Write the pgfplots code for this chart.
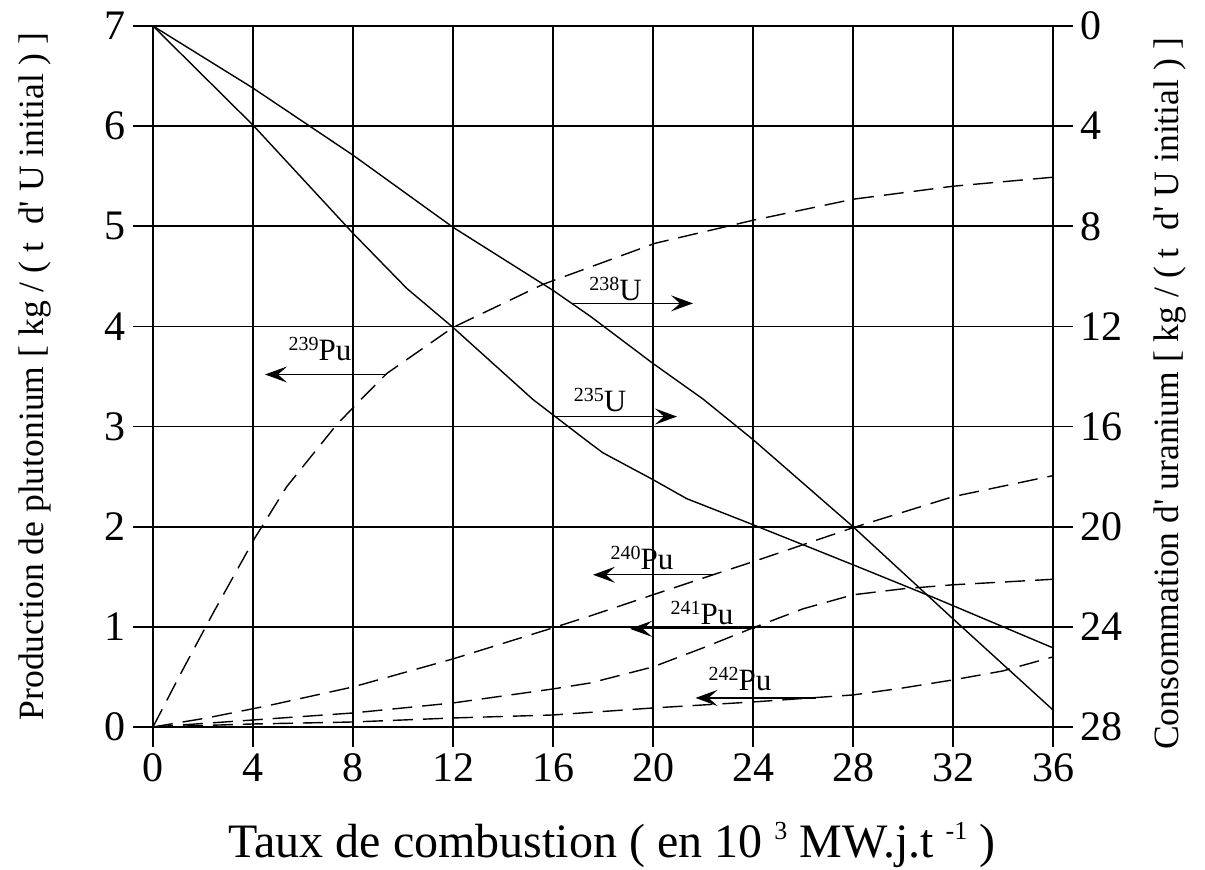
\documentclass[border=0pt]{standalone}
\usepackage{fontspec}
\setmainfont{Liberation Serif}
\usepackage{pgfplots}
\pgfplotsset{compat=1.18}
\usetikzlibrary{arrows.meta}
\newcommand{\isup}[1]{\raisebox{5pt}{\fontsize{10}{12}\selectfont #1}}
\newcommand{\xsup}[1]{\raisebox{9pt}{\fontsize{13}{15}\selectfont #1}}
\newcommand{\ap}{\textquotesingle}
\tikzset{
  dsh/.style={black, line width=0.7pt, dash pattern=on 10pt off 5pt},
  sol/.style={black, line width=0.7pt},
  arr/.style={black, line width=0.6pt, -{Stealth[length=11pt,width=8pt,inset=4.5pt]}},
  lab/.style={font=\fontsize{15.5}{18}\selectfont, inner sep=0pt},
}
\begin{document}
\begin{tikzpicture}
\useasboundingbox (-76.5pt,-71.5pt) rectangle (526pt,363.5pt);
\pgfplotsset{
  common/.style={
    at={(0,0)}, anchor=south west,
    scale only axis, width=450pt, height=350.5pt,
    xmin=0, xmax=36,
    tick align=outside,
    major tick length=10pt,
    tick style={black, line width=0.8pt},
    axis line style={black, line width=0.8pt},
    tick label style={font=\fontsize{21}{24}\selectfont},
    /pgf/number format/assume math mode=true,
    label style={font=\fontsize{17.8}{20}\selectfont},
  },
}
\begin{axis}[common,
  ymin=0, ymax=7,
  xtick={0,4,...,36}, ytick={0,1,...,7},
  tick pos=left,
  grid=major, major grid style={black, line width=0.8pt},
  xlabel={Taux de combustion ( en 10 \xsup{3} MW.j.t \xsup{-1} )},
  xlabel style={at={(axis description cs:0.51,-0.168)}, anchor=center, font=\fontsize{24}{28}\selectfont},
  ylabel={Production de plutonium [ kg / ( t \ d\ap{} U initial ) ]},
  ylabel style={at={(axis description cs:-0.131,0.5)}, anchor=center},
]
% 239Pu
\addplot[dsh] coordinates {(0,0) (1.08,0.52) (2.41,1.14) (4.08,1.89) (5.35,2.40) (7.35,3.02) (8.55,3.33) (9.35,3.53) (12,3.99) (15.6,4.42) (17.35,4.58) (20.08,4.83) (24,5.06) (28,5.27) (32,5.40) (36,5.49)};
% 240Pu
\addplot[dsh] coordinates {(0,0) (2.15,0.09) (4.55,0.21) (8,0.40) (12,0.68) (16,0.99) (17.5,1.11) (20,1.32) (22.4,1.52) (24,1.65) (28,1.99) (32,2.30) (36,2.51)};
% 241Pu
\addplot[dsh] coordinates {(0,0) (4,0.07) (8,0.14) (12,0.24) (16,0.38) (17.5,0.44) (20,0.60) (22,0.79) (24,0.99) (26,1.18) (28,1.32) (30,1.38) (32,1.42) (36,1.475)};
% 242Pu
\addplot[dsh] coordinates {(0,0) (4,0.03) (8,0.05) (12,0.09) (16,0.12) (20,0.19) (24,0.25) (28,0.32) (30,0.39) (32,0.47) (34,0.56) (36,0.70)};
% annotations
\draw[arr] (axis cs:9.35,3.52) -- (axis cs:4.48,3.52);
\node[lab] at (axis cs:6.68,3.77) {\isup{239}Pu};
\draw[arr] (axis cs:16.76,4.23) -- (axis cs:21.6,4.23);
\node[lab] at (axis cs:18.5,4.37) {\isup{238}U};
\draw[arr] (axis cs:16.0,3.10) -- (axis cs:20.96,3.10);
\node[lab] at (axis cs:17.88,3.26) {\isup{235}U};
\draw[arr] (axis cs:22.4,1.52) -- (axis cs:17.6,1.52);
\node[lab] at (axis cs:19.56,1.69) {\isup{240}Pu};
\draw[arr] (axis cs:24.08,0.98) -- (axis cs:19.08,0.98);
\node[lab] at (axis cs:21.96,1.14) {\isup{241}Pu};
\draw[arr] (axis cs:26.5,0.29) -- (axis cs:21.7,0.29);
\node[lab] at (axis cs:23.48,0.48) {\isup{242}Pu};
\end{axis}
\begin{axis}[common,
  ymin=0, ymax=28, y dir=reverse,
  axis y line*=right, axis x line=none,
  ytick={0,4,...,28},
  ylabel={Consommation d\ap{} uranium [ kg / ( t \ d\ap{} U initial ) ]},
  ylabel style={at={(axis description cs:1.13,0.475)}, anchor=center, rotate=0},
]
% U (straight)
\addplot[sol] coordinates {(0,0) (4,2.48) (8,5.16) (12,8.04) (16,10.56) (17.5,11.6) (20,13.48) (22,14.9) (24,16.52) (28,20.0) (32,23.68) (36,27.32)};
% U (curved)
\addplot[sol] coordinates {(0,0) (4,3.96) (8,8.28) (10.15,10.48) (12,12.04) (15.2,14.92) (17.5,16.68) (18,17.05) (20,18.12) (21.35,18.88) (24,19.92) (28,21.52) (31.35,22.88) (36,24.84)};
\end{axis}
\end{tikzpicture}
\end{document}
